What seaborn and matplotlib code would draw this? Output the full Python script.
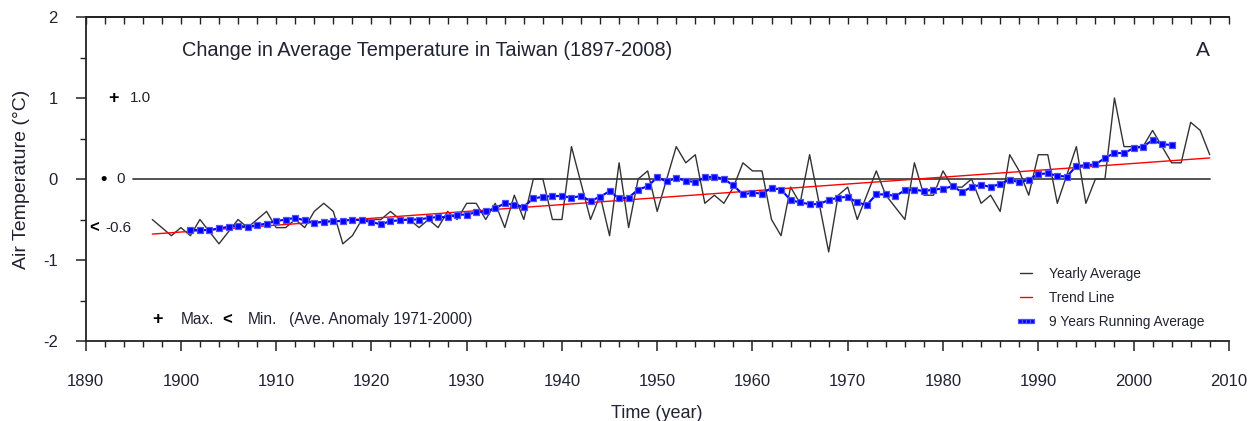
import numpy as np
import pandas as pd
import seaborn as sns
import matplotlib.pyplot as plt
from matplotlib.ticker import MultipleLocator

# yearly anomaly (deg C), 1897-2008
years = np.arange(1897, 2009)
yearly = [-0.5, -0.6, -0.7, -0.6, -0.7, -0.5, -0.65, -0.8, -0.65, -0.5,
          -0.6, -0.5, -0.4, -0.6, -0.6, -0.5, -0.6, -0.4, -0.3, -0.4,
          -0.8, -0.7, -0.5, -0.5, -0.5, -0.4, -0.5, -0.5, -0.6, -0.5,
          -0.6, -0.4, -0.5, -0.3, -0.3, -0.5, -0.3, -0.6, -0.2, -0.5,
          0.0, 0.0, -0.5, -0.5, 0.4, -0.05, -0.5, -0.2, -0.7, 0.2,
          -0.6, 0.0, 0.1, -0.4, 0.0, 0.4, 0.2, 0.3, -0.3, -0.2,
          -0.3, -0.1, 0.2, 0.1, 0.1, -0.5, -0.7, -0.1, -0.3, 0.3,
          -0.3, -0.9, -0.2, -0.1, -0.5, -0.2, 0.1, -0.2, -0.35, -0.5,
          0.2, -0.2, -0.2, 0.1, -0.1, -0.1, 0.0, -0.3, -0.2, -0.4,
          0.3, 0.1, -0.2, 0.3, 0.3, -0.3, 0.05, 0.4, -0.3, 0.0,
          0.0, 1.0, 0.4, 0.4, 0.4, 0.6, 0.4, 0.2, 0.2, 0.7,
          0.6, 0.3]

# 9 years running average, 1901-2004
run_years = np.arange(1901, 2005)
running = [-0.63, -0.63, -0.63, -0.61, -0.59, -0.58, -0.59, -0.57, -0.55, -0.52,
           -0.50, -0.48, -0.51, -0.54, -0.53, -0.52, -0.52, -0.50, -0.51, -0.53,
           -0.56, -0.52, -0.51, -0.50, -0.50, -0.48, -0.47, -0.47, -0.44, -0.44,
           -0.41, -0.40, -0.36, -0.30, -0.32, -0.34, -0.24, -0.22, -0.21, -0.21,
           -0.23, -0.21, -0.27, -0.22, -0.15, -0.24, -0.23, -0.13, -0.09, 0.02,
           -0.03, 0.01, -0.02, -0.04, 0.02, 0.03, 0.00, -0.08, -0.19, -0.17,
           -0.18, -0.11, -0.13, -0.26, -0.29, -0.31, -0.31, -0.26, -0.23, -0.22,
           -0.29, -0.32, -0.19, -0.19, -0.21, -0.14, -0.13, -0.15, -0.13, -0.12,
           -0.09, -0.16, -0.10, -0.07, -0.10, -0.06, -0.01, -0.04, -0.01, 0.06,
           0.07, 0.04, 0.03, 0.16, 0.17, 0.18, 0.26, 0.32, 0.32, 0.38,
           0.40, 0.48, 0.43, 0.42]

trend_years = [1897, 2008]
trend_vals = [-0.68, 0.26]

base_years = [1895, 2008]
base_vals = [0.0, 0.0]

side_marks = ['+', '\u2022', '<']
side_vals = [1.0, 0.0, -0.6]
side_texts = ['1.0', '0', '-0.6']

sns.set_style("ticks")
plt.rcParams['font.family'] = ['Liberation Sans', 'DejaVu Sans']
plt.rcParams['axes.unicode_minus'] = False
txt = '#222233'

fig = plt.figure(figsize=(12.59, 4.21), dpi=100)
ax = fig.add_axes([0.068, 0.19, 0.908, 0.7696])

ax.plot(base_years, base_vals, color='#444444', lw=1.3, zorder=1)
sns.lineplot(x=years, y=yearly, ax=ax, color='#333333', lw=1.0,
             label='Yearly Average')
sns.lineplot(x=trend_years, y=trend_vals, ax=ax, color='red', lw=1.0,
             label='Trend Line')
sns.lineplot(x=run_years, y=running, ax=ax, color='#0000ff', lw=1.5,
             marker='s', markersize=5, markeredgecolor='#5050ff',
             markeredgewidth=0.9, label='9 Years Running Average')

ax.set_xlim(1890, 2010)
ax.set_ylim(-2, 2)
ax.set_xticks(range(1890, 2011, 10))
ax.xaxis.set_minor_locator(MultipleLocator(2))
ax.set_yticks([-2, -1, 0, 1, 2])
ax.yaxis.set_minor_locator(MultipleLocator(0.5))
ax.tick_params(which='major', direction='out', length=7, width=1.1,
               labelsize=12, colors='#222222', labelcolor=txt)
ax.tick_params(axis='x', which='major', pad=17)
ax.tick_params(axis='y', which='major', pad=13)
ax.tick_params(which='minor', direction='out', length=4.5, width=1.0,
               colors='#222222')

top = ax.secondary_xaxis('top')
top.set_xticks(range(1890, 2011, 2))
top.tick_params(direction='in', length=5, width=1.0, labeltop=False,
                colors='#222222')
top.spines['top'].set_linewidth(1.3)

for s in ['left', 'bottom', 'top']:
    ax.spines[s].set_linewidth(1.3)
    ax.spines[s].set_color('#222222')
ax.spines['right'].set_visible(False)

ax.set_xlabel('Time (year)', fontsize=13, color=txt, labelpad=11)
ax.set_ylabel('Air Temperature (\u00b0C)', fontsize=14, color=txt, labelpad=9)

ax.text(1900.1, 1.59, 'Change in Average Temperature in Taiwan (1897-2008)',
        fontsize=14.4, color=txt, va='center', ha='left')
ax.text(2007.3, 1.59, 'A', fontsize=15, color=txt, va='center', ha='center')

# reference markers at the left side
mark_x = [1892.9, 1891.9, 1890.9]
text_x = [1894.6, 1893.2, 1892.1]
for m, v, t, mx, tx in zip(side_marks, side_vals, side_texts, mark_x, text_x):
    ax.text(mx, v, m, fontsize=13 if m != '<' else 12, fontweight='bold',
            color='black', va='center', ha='center')
    ax.text(tx, v, t, fontsize=11, color=txt, va='center', ha='left')

ax.text(1897.5, -1.74, '+', fontsize=13, fontweight='bold', color='black',
        va='center', ha='center')
ax.text(1900.0, -1.74, 'Max.', fontsize=11.2, color=txt, va='center')
ax.text(1904.9, -1.74, '<', fontsize=12, fontweight='bold', color='black',
        va='center', ha='center')
ax.text(1907.0, -1.74, 'Min.', fontsize=11.2, color=txt, va='center')
ax.text(1911.4, -1.74, '(Ave. Anomaly 1971-2000)', fontsize=11.2, color=txt,
        va='center')

leg = ax.legend(loc='upper left', bbox_to_anchor=(0.8137, 0.229),
                frameon=False, fontsize=9.9, borderpad=0, borderaxespad=0,
                handlelength=1.5, handletextpad=0.95, labelspacing=0.72,
                numpoints=4, markerscale=0.6)
for t in leg.get_texts():
    t.set_color(txt)

fig.savefig('out.png', dpi=100)
